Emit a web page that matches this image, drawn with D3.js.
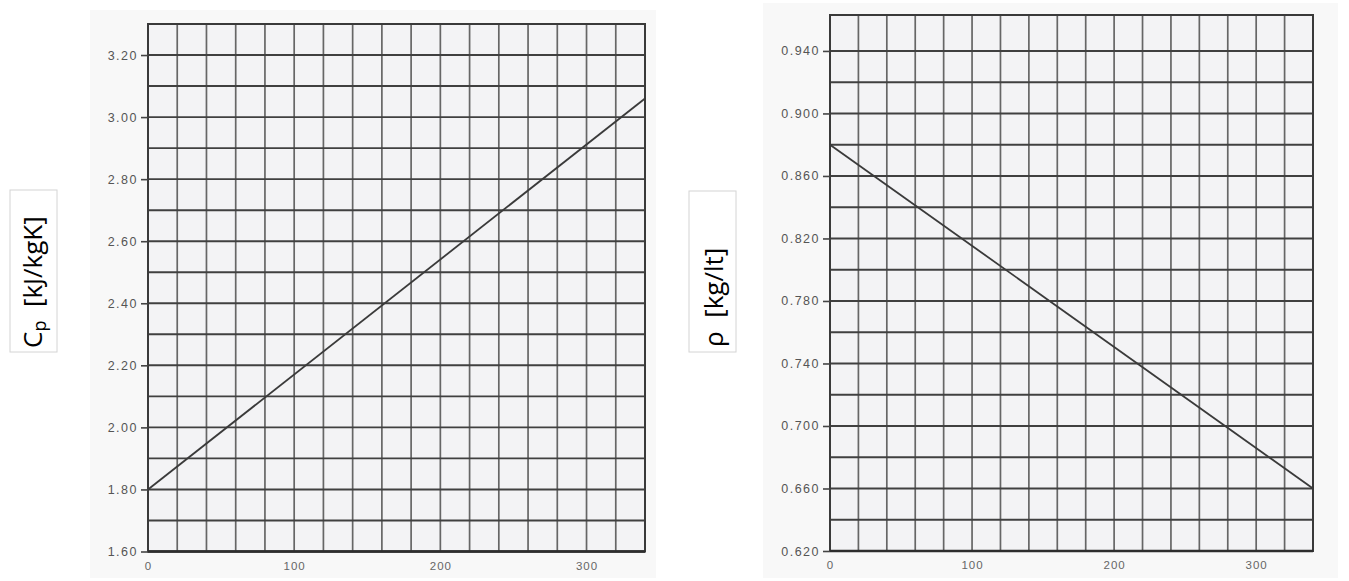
<!DOCTYPE html>
<html>
<head>
<meta charset="utf-8">
<script src="https://cdn.jsdelivr.net/npm/d3@7"></script>
<style>
  html, body { margin: 0; padding: 0; background: #ffffff; }
  svg { display: block; }
</style>
</head>
<body>
<svg id="chart" width="1349" height="581"></svg>
<script>
// ---- Data ----
const tempTicks = [0, 100, 200, 300];
const tempDomain = [0, 340];

const cpTicks = [1.60, 1.80, 2.00, 2.20, 2.40, 2.60, 2.80, 3.00, 3.20];
const cpTemp = [0, 340];
const cpValues = [1.80, 3.06];

const rhoTicks = [0.620, 0.660, 0.700, 0.740, 0.780, 0.820, 0.860, 0.900, 0.940];
const rhoTemp = [0, 340];
const rhoValues = [0.880, 0.660];

const svg = d3.select("#chart");

function drawPanel(cfg) {
  const g = svg.append("g");
  // scanned paper background
  g.append("rect")
    .attr("x", cfg.paper[0]).attr("y", cfg.paper[1])
    .attr("width", cfg.paper[2]).attr("height", cfg.paper[3])
    .attr("fill", "#f8f8f8");

  const x = d3.scaleLinear().domain(tempDomain).range(cfg.xRange);
  const y = d3.scaleLinear().domain(cfg.yDomain).range(cfg.yRange);

  g.append("rect")
    .attr("x", x(tempDomain[0])).attr("y", y(cfg.yDomain[1]))
    .attr("width", x(tempDomain[1]) - x(tempDomain[0]))
    .attr("height", y(cfg.yDomain[0]) - y(cfg.yDomain[1]))
    .attr("fill", "#f3f3f5");

  // vertical grid lines every 20
  const vGrid = d3.range(tempDomain[0], tempDomain[1] + 0.001, 20);
  g.selectAll(".vg").data(vGrid).join("line")
    .attr("x1", d => x(d)).attr("x2", d => x(d))
    .attr("y1", y(cfg.yDomain[0])).attr("y2", y(cfg.yDomain[1]))
    .attr("stroke", "#666").attr("stroke-width", 1.7);

  // horizontal grid lines
  g.selectAll(".hg").data(cfg.hGrid).join("line")
    .attr("x1", x(tempDomain[0])).attr("x2", x(tempDomain[1]))
    .attr("y1", d => y(d)).attr("y2", d => y(d))
    .attr("stroke", "#404040").attr("stroke-width", 1.9);

  // border
  g.append("rect")
    .attr("x", x(tempDomain[0])).attr("y", y(cfg.yDomain[1]))
    .attr("width", x(tempDomain[1]) - x(tempDomain[0]))
    .attr("height", y(cfg.yDomain[0]) - y(cfg.yDomain[1]))
    .attr("fill", "none").attr("stroke", "#3a3a3a").attr("stroke-width", 2);
  g.append("line")
    .attr("x1", x(tempDomain[0])).attr("x2", x(tempDomain[1]))
    .attr("y1", y(cfg.yDomain[0])).attr("y2", y(cfg.yDomain[0]))
    .attr("stroke", "#2e2e2e").attr("stroke-width", 2.6);

  // y axis
  const yAxis = d3.axisLeft(y).tickValues(cfg.yTicks).tickFormat(d3.format(cfg.fmt))
    .tickSize(7).tickPadding(3);
  const ya = g.append("g").attr("transform", `translate(${x(tempDomain[0])},0)`).call(yAxis);
  ya.select(".domain").remove();
  ya.selectAll(".tick line").attr("stroke", "#444").attr("stroke-width", 1.6);
  ya.selectAll(".tick text")
    .attr("fill", "#555").style("font-family", "Liberation Sans, Arial, sans-serif")
    .style("font-size", "12.5px").style("letter-spacing", "1.5px");

  // x axis
  const xAxis = d3.axisBottom(x).tickValues(tempTicks).tickFormat(d3.format("d"))
    .tickSize(0).tickPadding(10);
  const xa = g.append("g").attr("transform", `translate(0,${y(cfg.yDomain[0])})`).call(xAxis);
  xa.select(".domain").remove();
  xa.selectAll(".tick text")
    .attr("fill", "#666").style("font-family", "Liberation Sans, Arial, sans-serif")
    .style("font-size", "11.5px").style("letter-spacing", "1px");

  // data line
  const pts = cfg.temp.map((t, i) => [t, cfg.values[i]]);
  g.append("path")
    .datum(pts)
    .attr("d", d3.line().x(d => x(d[0])).y(d => y(d[1])))
    .attr("fill", "none").attr("stroke", "#3a3a3a").attr("stroke-width", 1.8);

  // y label box
  const lb = cfg.labelBox;
  g.append("rect")
    .attr("x", lb[0]).attr("y", lb[1]).attr("width", lb[2]).attr("height", lb[3])
    .attr("fill", "#ffffff").attr("stroke", "#d4d4d4").attr("stroke-width", 1);
  const t = g.append("text")
    .attr("transform", `translate(${cfg.labelPos[0]},${cfg.labelPos[1]}) rotate(-90)`)
    .attr("text-anchor", "start")
    .style("font-family", "Open Sans, Noto Sans, sans-serif")
    .style("font-size", "26px").attr("fill", "#000");
  cfg.labelParts.forEach(p => {
    const ts = t.append("tspan").text(p.text);
    if (p.sub) ts.attr("baseline-shift", "-22%").style("font-size", "18px");
  });
}

drawPanel({
  paper: [90, 10, 566, 568],
  xRange: [148, 645],
  yDomain: [1.6, 3.3],
  yRange: [551.5, 24],
  hGrid: d3.range(1.6, 3.301, 0.1),
  yTicks: cpTicks,
  fmt: ".2f",
  temp: cpTemp,
  values: cpValues,
  labelBox: [10, 190, 47, 162],
  labelPos: [42, 348],
  labelParts: [{text: "C"}, {text: "p", sub: true}, {text: "\u00a0 [kJ/kgK]"}]
});

drawPanel({
  paper: [763, 3, 575, 575],
  xRange: [830, 1313],
  yDomain: [0.62, 0.963],
  yRange: [551, 15],
  hGrid: d3.range(0.62, 0.9401, 0.02),
  yTicks: rhoTicks,
  fmt: ".3f",
  temp: rhoTemp,
  values: rhoValues,
  labelBox: [689, 191, 47, 161],
  labelPos: [723, 347],
  labelParts: [{text: "\u03c1"}, {text: "\u00a0 [kg/lt]"}]
});
</script>
</body>
</html>
